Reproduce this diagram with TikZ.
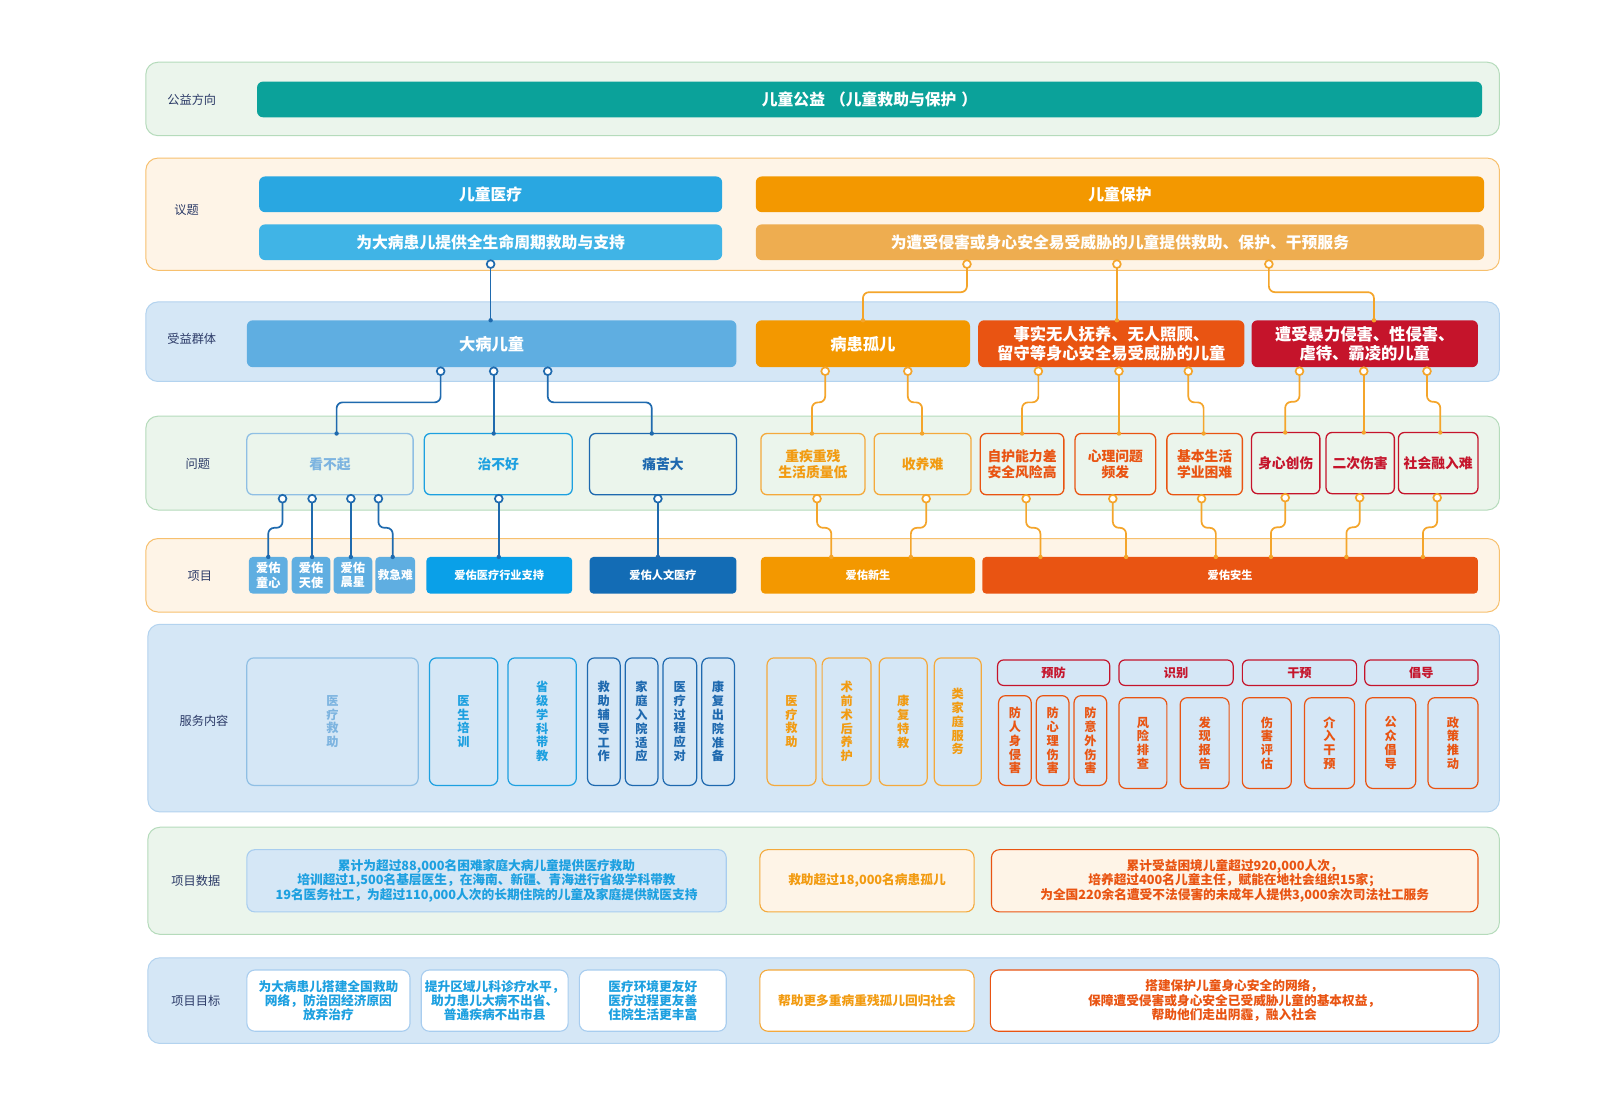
\documentclass[tikz,border=0pt]{standalone}
\usepackage{fontspec}
\setmainfont{Noto Sans CJK SC}
\usetikzlibrary{calc}
\definecolor{cTeal}{HTML}{0BA29A}
\definecolor{cGreenBg}{HTML}{EBF5EC}
\definecolor{cGreenBd}{HTML}{B5DBBB}
\definecolor{cCreamBg}{HTML}{FEF4E7}
\definecolor{cCreamBd}{HTML}{F7C06E}
\definecolor{cBlueBg}{HTML}{D5E7F6}
\definecolor{cBlueBd}{HTML}{B3D3EF}
\definecolor{cMedA}{HTML}{29A7E1}
\definecolor{cMedB}{HTML}{40B4E6}
\definecolor{cProA}{HTML}{F39800}
\definecolor{cProB}{HTML}{EEAD50}
\definecolor{cGrpA}{HTML}{5FAEE1}
\definecolor{cOr}{HTML}{F39800}
\definecolor{cOrR}{HTML}{E95412}
\definecolor{cRed}{HTML}{C5142B}
\definecolor{cLB}{HTML}{8FBFE4}
\definecolor{cLBt}{HTML}{7DB4E0}
\definecolor{cMB}{HTML}{1DA0E0}
\definecolor{cDB}{HTML}{1E69AF}
\definecolor{cProjB}{HTML}{0AA0E8}
\definecolor{cDBb}{HTML}{136CB5}
\definecolor{cOrL}{HTML}{F4A93C}
\definecolor{cOrT}{HTML}{F29B11}
\definecolor{cLineB}{HTML}{1F6AAE}
\definecolor{cLineO}{HTML}{F4A52B}
\definecolor{cLab}{HTML}{2B3A67}
\definecolor{cLBd}{HTML}{A8CDEF}
\newcommand\bx[7]{\node[#6, minimum width={(#4-#2)*1.02pt}, minimum height={(#5-#3)*1.02pt}] (#1) at ({(#2+#4)/2},{(#3+#5)/2}) {#7};}
\newcommand\lnk[5]{%
\path let \p1=(#2.south), \p2=(#4.north), \p3=(#3,0), \p4=(#5,0) in coordinate (s) at (\x3,\y1-4pt) coordinate (e) at (\x4,\y2);
\coordinate (m) at ($(s)!0.5!(e)$);
\draw[conn,draw=#1,rounded corners=6pt] (s) -- (s|-m) -- (e|-m) -- (e);
\fill[#1] (e) circle (2.2pt);
\draw[conn,draw=#1,fill=white] (s) circle (3.9pt);}
\newcommand\lnks[4]{%
\path let \p1=(#2.south), \p2=(#4.north), \p3=(#3,0) in coordinate (s) at (\x3,\y1-4pt) coordinate (e) at (\x3,\y2);
\draw[conn,draw=#1] (s) -- (e);
\fill[#1] (e) circle (2.2pt);
\draw[conn,draw=#1,fill=white] (s) circle (3.9pt);}
\begin{document}
\begin{tikzpicture}[x=1.02pt,y=-1.02pt,
 band/.style={rectangle, rounded corners=12pt, line width=1pt, inner sep=0pt, outer sep=0pt},
 bar/.style={rectangle, rounded corners=6pt, inner sep=0pt, outer sep=0pt, text=white, font=\bfseries\fontsize{15.8}{18}\selectfont},
 grp/.style={rectangle, rounded corners=6pt, inner sep=0pt, outer sep=0pt, text=white, align=center, font=\bfseries\fontsize{16.3}{19.4}\selectfont},
 prob/.style={rectangle, rounded corners=6pt, line width=1.3pt, inner sep=0pt, outer sep=0pt, align=center, font=\bfseries\fontsize{13.8}{16.3}\selectfont},
 proj/.style={rectangle, rounded corners=4pt, inner sep=0pt, outer sep=0pt, text=white, align=center, font=\bfseries\fontsize{11.2}{13}\selectfont},
 projt/.style={proj, font=\bfseries\fontsize{12.2}{14.2}\selectfont},
 svc/.style={rectangle, rounded corners=7pt, line width=1.2pt, inner sep=0pt, outer sep=0pt, align=center, font=\bfseries\fontsize{12.2}{13.8}\selectfont},
 hdr/.style={rectangle, rounded corners=6pt, line width=1.2pt, inner sep=0pt, outer sep=0pt, draw=cRed, text=cRed, font=\bfseries\fontsize{12.2}{14}\selectfont},
 data/.style={rectangle, rounded corners=8pt, line width=1.1pt, inner sep=0pt, outer sep=0pt, align=center, font=\bfseries\fontsize{12.7}{14.3}\selectfont},
 goal/.style={data, fill=white},
 lab/.style={text=cLab, font=\fontsize{12.2}{14}\selectfont},
 conn/.style={line width=1.7pt}]
\useasboundingbox (0,0) rectangle (1568.63,1070.59);
\fill[white] (0,0) rectangle (1568.63,1070.59);
% bands
\bx{b1}{143}{61}{1470}{133}{band, fill=cGreenBg, draw=cGreenBd}{}
\bx{b2}{143}{155}{1470}{265}{band, fill=cCreamBg, draw=cCreamBd}{}
\bx{b3}{143}{296}{1470}{374}{band, fill=cBlueBg, draw=cBlueBd}{}
\bx{b4}{143}{408}{1470}{500}{band, fill=cGreenBg, draw=cGreenBd}{}
\bx{b5}{143}{528}{1470}{600}{band, fill=cCreamBg, draw=cCreamBd}{}
\bx{b6}{145}{612}{1470}{796}{band, fill=cBlueBg, draw=cBlueBd}{}
\bx{b7}{145}{811}{1470}{916}{band, fill=cGreenBg, draw=cGreenBd}{}
\bx{b8}{145}{939}{1470}{1023}{band, fill=cBlueBg, draw=cBlueBd}{}
% labels
\node[lab] (l1) at (188,98) {公益方向};
\node[lab] (l2) at (183,206) {议题};
\node[lab] (l3) at (188,332) {受益群体};
\node[lab] (l4) at (194,455) {问题};
\node[lab] (l5) at (196,565) {项目};
\node[lab] (l6) at (200,707) {服务内容};
\node[lab] (l7) at (192,864) {项目数据};
\node[lab] (l8) at (192,981) {项目目标};
% top bars
\bx{t1}{252}{80}{1453}{115}{bar, fill=cTeal}{儿童公益\hspace{5pt}（儿童救助与保护\hspace{5pt}）}
\bx{i1}{254}{173}{708}{208}{bar, fill=cMedA}{儿童医疗}
\bx{i2}{254}{220}{708}{255}{bar, fill=cMedB}{为大病患儿提供全生命周期救助与支持}
\bx{i3}{741}{173}{1455}{208}{bar, fill=cProA}{儿童保护}
\bx{i4}{741}{220}{1455}{255}{bar, fill=cProB}{为遭受侵害或身心安全易受威胁的儿童提供救助、保护、干预服务}
% groups
\bx{g1}{242}{314}{722}{360}{grp, fill=cGrpA}{大病儿童}
\bx{g2}{741}{314}{951}{360}{grp, fill=cOr}{病患孤儿}
\bx{g3}{959}{314}{1220}{360}{grp, fill=cOrR}{事实无人抚养、无人照顾、\\留守等身心安全易受威胁的儿童}
\bx{g4}{1227}{314}{1449}{360}{grp, fill=cRed}{遭受暴力侵害、性侵害、\\虐待、霸凌的儿童}
% problems
\bx{p1}{242}{425}{405}{485}{prob, draw=cLB, text=cLBt}{看不起}
\bx{p2}{416}{425}{561}{485}{prob, draw=cMB, text=cMB}{治不好}
\bx{p3}{578}{425}{722}{485}{prob, draw=cDB, text=cDB}{痛苦大}
\bx{p4}{746}{425}{848}{485}{prob, draw=cOrL, text=cOrT}{重疾重残\\生活质量低}
\bx{p5}{857}{425}{952}{485}{prob, draw=cOrL, text=cOrT}{收养难}
\bx{p6}{961}{425}{1043}{485}{prob, draw=cOrR, text=cOrR}{自护能力差\\安全风险高}
\bx{p7}{1054}{425}{1133}{485}{prob, draw=cOrR, text=cOrR}{心理问题\\频发}
\bx{p8}{1144}{425}{1218}{485}{prob, draw=cOrR, text=cOrR}{基本生活\\学业困难}
\bx{p9}{1227}{424}{1294}{484}{prob, draw=cRed, text=cRed}{身心创伤}
\bx{p10}{1300}{424}{1367}{484}{prob, draw=cRed, text=cRed}{二次伤害}
\bx{p11}{1371}{424}{1449}{484}{prob, draw=cRed, text=cRed}{社会融入难}
% projects
\bx{j1}{244}{546}{282}{582}{projt, fill=cGrpA}{爱佑\\童心}
\bx{j2}{286}{546}{324}{582}{projt, fill=cGrpA}{爱佑\\天使}
\bx{j3}{327}{546}{365}{582}{projt, fill=cGrpA}{爱佑\\晨星}
\bx{j4}{368}{546}{407}{582}{projt, fill=cGrpA, font=\bfseries\fontsize{11.7}{13}\selectfont}{救急难}
\bx{j5}{418}{546}{561}{582}{proj, fill=cProjB}{爱佑医疗行业支持}
\bx{j6}{578}{546}{722}{582}{proj, fill=cDBb}{爱佑人文医疗}
\bx{j7}{746}{546}{956}{582}{proj, fill=cOr}{爱佑新生}
\bx{j8}{963}{546}{1449}{582}{proj, fill=cOrR}{爱佑安生}
% services blue
\bx{s1}{242}{645}{410}{770}{svc, draw=cLB, text=cLBt}{医\\疗\\救\\助}
\bx{s2}{421}{645}{488}{770}{svc, draw=cMB, text=cMB}{医\\生\\培\\训}
\bx{s3}{498}{645}{565}{770}{svc, draw=cMB, text=cMB}{省\\级\\学\\科\\带\\教}
\bx{s4}{576}{645}{608}{770}{svc, draw=cDB, text=cDB}{救\\助\\辅\\导\\工\\作}
\bx{s5}{613}{645}{645}{770}{svc, draw=cDB, text=cDB}{家\\庭\\入\\院\\适\\应}
\bx{s6}{650}{645}{683}{770}{svc, draw=cDB, text=cDB}{医\\疗\\过\\程\\应\\对}
\bx{s7}{688}{645}{720}{770}{svc, draw=cDB, text=cDB}{康\\复\\出\\院\\准\\备}
% services orange
\bx{s8}{752}{645}{800}{770}{svc, draw=cOrL, text=cOrT}{医\\疗\\救\\助}
\bx{s9}{806}{645}{854}{770}{svc, draw=cOrL, text=cOrT}{术\\前\\术\\后\\养\\护}
\bx{s10}{862}{645}{909}{770}{svc, draw=cOrL, text=cOrT}{康\\复\\特\\教}
\bx{s11}{916}{645}{962}{770}{svc, draw=cOrL, text=cOrT}{类\\家\\庭\\服\\务}
% services red
\bx{h1}{978}{647}{1088}{672}{hdr}{预防}
\bx{h2}{1097}{647}{1209}{672}{hdr}{识别}
\bx{h3}{1218}{647}{1330}{672}{hdr}{干预}
\bx{h4}{1338}{647}{1449}{672}{hdr}{倡导}
\bx{u1}{979}{682}{1011}{770}{svc, draw=cOrR, text=cOrR}{防\\人\\身\\侵\\害}
\bx{u2}{1016}{682}{1048}{770}{svc, draw=cOrR, text=cOrR}{防\\心\\理\\伤\\害}
\bx{u3}{1053}{682}{1085}{770}{svc, draw=cOrR, text=cOrR}{防\\意\\外\\伤\\害}
\bx{u4}{1097}{684}{1144}{773}{svc, draw=cOrR, text=cOrR}{风\\险\\排\\查}
\bx{u5}{1157}{684}{1205}{773}{svc, draw=cOrR, text=cOrR}{发\\现\\报\\告}
\bx{u6}{1218}{684}{1266}{773}{svc, draw=cOrR, text=cOrR}{伤\\害\\评\\估}
\bx{u7}{1279}{684}{1328}{773}{svc, draw=cOrR, text=cOrR}{介\\入\\干\\预}
\bx{u8}{1339}{684}{1388}{773}{svc, draw=cOrR, text=cOrR}{公\\众\\倡\\导}
\bx{u9}{1400}{684}{1449}{773}{svc, draw=cOrR, text=cOrR}{政\\策\\推\\动}
% data
\bx{d1}{242}{833}{712}{894}{data, fill=cBlueBg, draw=cLBd, text=cMB}{累计为超过88,000名困难家庭大病儿童提供医疗救助\\培训超过1,500名基层医生，在海南、新疆、青海进行省级学科带教\\19名医务社工，为超过110,000人次的长期住院的儿童及家庭提供就医支持}
\bx{d2}{745}{833}{955}{894}{data, fill=cCreamBg, draw=cOrL, text=cOrT}{救助超过18,000名病患孤儿}
\bx{d3}{972}{833}{1449}{894}{data, fill=cCreamBg, draw=cOrR, text=cOrR}{累计受益困境儿童超过920,000人次，\\培养超过400名儿童主任，赋能在地社会组织15家；\\为全国220余名遭受不法侵害的未成年人提供3,000余次司法社工服务}
% goals
\bx{o1}{242}{951}{402}{1011}{goal, draw=cLBd, text=cMB}{为大病患儿搭建全国救助\\网络，防治因经济原因\\放弃治疗}
\bx{o2}{413}{951}{557}{1011}{goal, draw=cLBd, text=cMB}{提升区域儿科诊疗水平，\\助力患儿大病不出省、\\普通疾病不出市县}
\bx{o3}{568}{951}{712}{1011}{goal, draw=cLBd, text=cMB}{医疗环境更友好\\医疗过程更友善\\住院生活更丰富}
\bx{o4}{745}{951}{955}{1011}{goal, draw=cOrL, text=cOrT}{帮助更多重病重残孤儿回归社会}
\bx{o5}{971}{951}{1449}{1011}{goal, draw=cOrR, text=cOrR}{搭建保护儿童身心安全的网络，\\保障遭受侵害或身心安全已受威胁儿童的基本权益，\\帮助他们走出阴霾，融入社会}
% connectors blue
\lnks{cLineB}{i2}{481}{g1}
\lnk{cLineB}{g1}{432}{p1}{330}
\lnks{cLineB}{g1}{484}{p2}
\lnk{cLineB}{g1}{537}{p3}{639}
\lnk{cLineB}{p1}{277}{j1}{263}
\lnks{cLineB}{p1}{306}{j2}
\lnks{cLineB}{p1}{344}{j3}
\lnk{cLineB}{p1}{371}{j4}{385}
\lnks{cLineB}{p2}{489}{j5}
\lnks{cLineB}{p3}{645}{j6}
% connectors orange
\lnk{cLineO}{i4}{948}{g2}{846}
\lnks{cLineO}{i4}{1095}{g3}
\lnk{cLineO}{i4}{1244}{g4}{1347}
\lnk{cLineO}{g2}{809}{p4}{796}
\lnk{cLineO}{g2}{890}{p5}{904}
\lnk{cLineO}{g3}{1018}{p6}{1002}
\lnks{cLineO}{g3}{1097}{p7}
\lnk{cLineO}{g3}{1165}{p8}{1180}
\lnk{cLineO}{g4}{1274}{p9}{1260}
\lnks{cLineO}{g4}{1337}{p10}
\lnk{cLineO}{g4}{1399}{p11}{1412}
\lnk{cLineO}{p4}{801}{j7}{815}
\lnk{cLineO}{p5}{908}{j7}{893}
\lnk{cLineO}{p6}{1006}{j8}{1020}
\lnk{cLineO}{p7}{1091}{j8}{1104}
\lnk{cLineO}{p8}{1178}{j8}{1192}
\lnk{cLineO}{p9}{1260}{j8}{1246}
\lnk{cLineO}{p10}{1333}{j8}{1320}
\lnk{cLineO}{p11}{1409}{j8}{1395}
\end{tikzpicture}
\end{document}
